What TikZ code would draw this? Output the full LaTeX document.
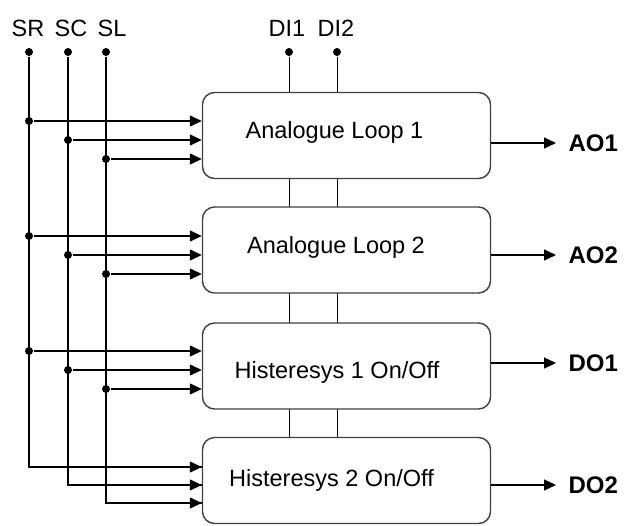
\documentclass[tikz,border=0pt]{standalone}
\usepackage{fontspec}
\setmainfont{Liberation Sans}
\usetikzlibrary{arrows.meta,backgrounds}
\begin{document}
\begin{tikzpicture}[x=1pt,y=-1pt,
  line width=1.3pt,
  blk/.style={draw=black!75,line width=1.4pt,rounded corners=12pt,fill=white,minimum width=288pt,minimum height=86pt,inner sep=0pt},
  txt/.style={font=\fontsize{23.5}{28}\selectfont,inner sep=0pt,anchor=base},
  outl/.style={font=\fontsize{24}{28}\selectfont\bfseries,anchor=west,inner xsep=12pt,inner ysep=0pt},
  dot/.style={circle,fill=black,inner sep=0pt,minimum size=8pt},
  arr/.style={-{Triangle[length=12pt,width=11pt]}}]
\useasboundingbox (0,0) rectangle (628,525);
% boxes
\node[blk] (b1) at (346.5,135.5) {};
\node[blk] (b2) at (346.5,250) {};
\node[blk] (b3) at (346.5,366) {};
\node[blk] (b4) at (346.5,480.5) {};
\node[txt] (t1) at (334.5,138.4) {Analogue Loop 1};
\node[txt] (t2) at (336,253.4) {Analogue Loop 2};
\node[txt] (t3) at (337,378.4) {Histeresys 1 On/Off};
\node[txt] (t4) at (331.5,486.4) {Histeresys 2 On/Off};
% top labels and dots
\node[txt] (lsr) at (28,36.4) {SR};
\node[txt] (lsc) at (71,36.4) {SC};
\node[txt] (lsl) at (112,36.4) {SL};
\node[txt] (ldi1) at (287,36.4) {DI1};
\node[txt] (ldi2) at (336,36.4) {DI2};
\node[dot] (sr) at (29,52) {};
\node[dot] (sc) at (68,52) {};
\node[dot] (sl) at (106,52) {};
\node[dot] (di1) at (289,52) {};
\node[dot] (di2) at (337,52) {};
% junction dots
\node[dot] (r1) at (29,121) {};
\node[dot] (c1) at (68,140) {};
\node[dot] (l1) at (106,159) {};
\node[dot] (r2) at (29,236) {};
\node[dot] (c2) at (68,255) {};
\node[dot] (l2) at (106,274) {};
\node[dot] (r3) at (29,351) {};
\node[dot] (c3) at (68,370) {};
\node[dot] (l3) at (106,389) {};
\coordinate (r4) at (29,467);
\coordinate (c4) at (68,485);
\coordinate (l4) at (106,503);
% outputs
\node[outl] (ao1) at (556,143) {AO1};
\node[outl] (ao2) at (556,255) {AO2};
\node[outl] (do1) at (556,363) {DO1};
\node[outl] (do2) at (556,485) {DO2};
\begin{scope}[on background layer]
  \draw (di1) -- (di1 |- b4.north);
  \draw (di2) -- (di2 |- b4.north);
\end{scope}
% buses
\draw (sr) |- (r4 -| b4.west);
\draw (sc) |- (c4 -| b4.west);
\draw (sl) |- (l4 -| b4.west);
\draw[arr] (r4) -- (r4 -| b4.west);
\draw[arr] (c4) -- (c4 -| b4.west);
\draw[arr] (l4) -- (l4 -| b4.west);
\foreach \k in {1,2,3}{
  \draw[arr] (r\k) -- (r\k -| b\k.west);
  \draw[arr] (c\k) -- (c\k -| b\k.west);
  \draw[arr] (l\k) -- (l\k -| b\k.west);
}
\draw[arr] (b1.east |- ao1.west) -- (ao1.west);
\draw[arr] (b2.east |- ao2.west) -- (ao2.west);
\draw[arr] (b3.east |- do1.west) -- (do1.west);
\draw[arr] (b4.east |- do2.west) -- (do2.west);
\end{tikzpicture}
\end{document}
